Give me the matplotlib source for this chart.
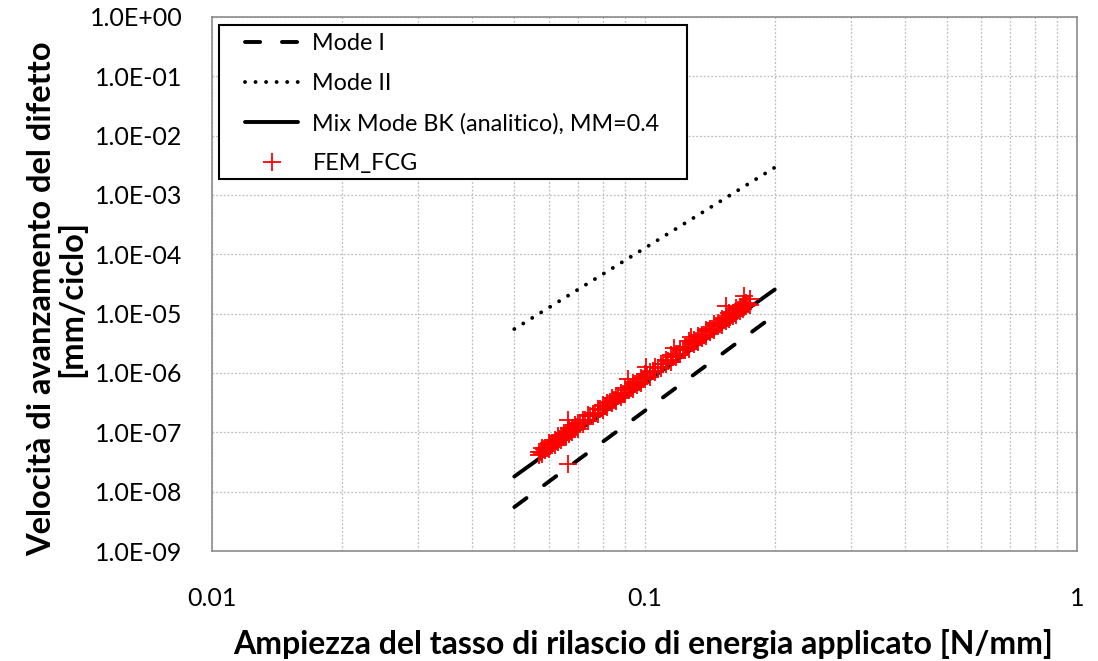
import matplotlib
matplotlib.use("Agg")
import matplotlib.pyplot as plt
from matplotlib.patches import Rectangle
from matplotlib.ticker import FuncFormatter, LogLocator, NullFormatter, FixedLocator

# Paris-type lines (start / end points in G and da/dN)
g_line = [0.05, 0.2]
mode1_rate = [5.5e-9, 9.5e-6]
mode2_rate = [5.5e-6, 2.9e-3]
mix_rate = [1.8e-8, 2.55e-5]

# FEM_FCG points
fem_g = [0.057, 0.057, 0.058, 0.058, 0.059, 0.059, 0.060, 0.060, 0.061, 0.061,
         0.062, 0.062, 0.063, 0.063, 0.064, 0.064, 0.065, 0.065, 0.066, 0.066,
         0.067, 0.067, 0.068, 0.068, 0.069, 0.069, 0.070, 0.070, 0.072, 0.072,
         0.074, 0.074, 0.076, 0.076, 0.078, 0.078, 0.080, 0.080, 0.082, 0.082,
         0.084, 0.084, 0.086, 0.086, 0.088, 0.088, 0.090, 0.090, 0.092, 0.092,
         0.094, 0.094, 0.096, 0.096, 0.098, 0.098, 0.100, 0.100, 0.103, 0.103,
         0.106, 0.106, 0.109, 0.109, 0.112, 0.112, 0.115, 0.115, 0.118, 0.118,
         0.121, 0.121, 0.124, 0.124, 0.127, 0.127, 0.130, 0.130, 0.133, 0.133,
         0.136, 0.136, 0.139, 0.139, 0.142, 0.142, 0.145, 0.145, 0.148, 0.148,
         0.151, 0.151, 0.154, 0.154, 0.157, 0.157, 0.160, 0.160, 0.163, 0.163,
         0.166, 0.166, 0.169, 0.169, 0.172, 0.172, 0.175, 0.175,
         0.0664, 0.0664, 0.170, 0.1545, 0.128, 0.117, 0.1006, 0.0914]
fem_rate = [4.10e-8, 4.71e-8, 4.29e-8, 5.40e-8, 5.02e-8, 5.51e-8, 5.24e-8, 6.59e-8, 6.11e-8, 6.70e-8,
            6.07e-8, 7.46e-8, 6.92e-8, 8.71e-8, 7.35e-8, 8.63e-8, 8.34e-8, 9.79e-8, 8.41e-8, 9.89e-8,
            9.55e-8, 1.17e-7, 1.01e-7, 1.18e-7, 1.14e-7, 1.31e-7, 1.15e-7, 1.44e-7, 1.39e-7, 1.60e-7,
            1.57e-7, 1.97e-7, 1.89e-7, 2.07e-7, 2.02e-7, 2.48e-7, 2.41e-7, 2.90e-7, 2.68e-7, 3.15e-7,
            3.18e-7, 3.83e-7, 3.37e-7, 4.05e-7, 3.97e-7, 4.67e-7, 4.37e-7, 5.62e-7, 5.13e-7, 5.75e-7,
            5.36e-7, 6.75e-7, 6.27e-7, 7.03e-7, 6.81e-7, 8.18e-7, 7.93e-7, 9.53e-7, 8.63e-7, 1.04e-6,
            1.05e-6, 1.26e-6, 1.19e-6, 1.40e-6, 1.44e-6, 1.65e-6, 1.54e-6, 1.98e-6, 1.84e-6, 2.07e-6,
            2.05e-6, 2.52e-6, 2.44e-6, 2.74e-6, 2.58e-6, 3.40e-6, 3.05e-6, 3.59e-6, 3.37e-6, 4.14e-6,
            3.95e-6, 4.44e-6, 4.14e-6, 5.33e-6, 4.85e-6, 5.57e-6, 5.28e-6, 6.81e-6, 6.17e-6, 7.08e-6,
            6.38e-6, 8.04e-6, 7.41e-6, 8.51e-6, 8.02e-6, 1.01e-5, 9.27e-6, 1.04e-5, 9.53e-6, 1.26e-5,
            1.10e-5, 1.29e-5, 1.18e-5, 1.45e-5, 1.35e-5, 1.52e-5, 1.38e-5, 1.78e-5,
            1.62e-7, 2.95e-8, 2.0e-5, 1.36e-5, 4.0e-6, 2.6e-6, 1.25e-6, 7.9e-7]

# more FEM_FCG points in the middle of the band
fem_g_mid = [0.0575, 0.0585, 0.0595, 0.0605, 0.0615, 0.0625, 0.0635, 0.0645, 0.0655, 0.0665,
             0.0675, 0.0685, 0.0695, 0.071, 0.073, 0.075, 0.077, 0.079, 0.081, 0.083,
             0.085, 0.087, 0.089, 0.091, 0.093, 0.095, 0.097, 0.099, 0.1015, 0.1045,
             0.1075, 0.1105, 0.1135, 0.1165, 0.1195, 0.1225, 0.1255, 0.1285, 0.1315, 0.1345,
             0.1375, 0.1405, 0.1435, 0.1465, 0.1495, 0.1525, 0.1555, 0.1585, 0.1615, 0.1645,
             0.1675, 0.1705, 0.1735]
fem_rate_mid = [4.60e-8, 5.14e-8, 5.50e-8, 6.13e-8, 6.52e-8, 7.27e-8, 7.73e-8, 8.58e-8, 9.08e-8, 1.01e-7,
                1.06e-7, 1.17e-7, 1.24e-7, 1.42e-7, 1.60e-7, 1.89e-7, 2.12e-7, 2.47e-7, 2.75e-7, 3.20e-7,
                3.55e-7, 4.10e-7, 4.51e-7, 5.19e-7, 5.68e-7, 6.50e-7, 7.08e-7, 8.05e-7, 8.96e-7, 1.07e-6,
                1.21e-6, 1.43e-6, 1.61e-6, 1.89e-6, 2.11e-6, 2.45e-6, 2.72e-6, 3.15e-6, 3.48e-6, 4.00e-6,
                4.39e-6, 5.03e-6, 5.49e-6, 6.26e-6, 6.80e-6, 7.72e-6, 8.36e-6, 9.45e-6, 1.02e-5, 1.15e-5,
                1.23e-5, 1.38e-5, 1.48e-5]

x_ticks = [0.01, 0.1, 1]
x_ticklabels = ["0.01", "0.1", "1"]

plt.rcParams['font.family'] = ['Lato', 'DejaVu Sans']

fig = plt.figure(figsize=(10.98, 6.61), dpi=100)
ax = fig.add_axes([0.193, 0.1664, 0.788, 0.808])

lw = 2.8
ax.plot(g_line, mode1_rate, color="black", lw=lw, dashes=(3.9, 5.6),
        dash_capstyle="round", label="Mode I")
ax.plot(g_line, mode2_rate, color="black", lw=lw, dashes=(0.01, 2.7),
        dash_capstyle="round", label="Mode II")
ax.plot(g_line, mix_rate, color="black", lw=lw, solid_capstyle="round",
        label="Mix Mode BK (analitico), MM=0.4")
ax.plot(fem_g + fem_g_mid, fem_rate + fem_rate_mid, ls="none", marker="+",
        ms=13, mew=1.3, color="red", label="FEM_FCG")

ax.set_xscale("log")
ax.set_yscale("log")
ax.set_xlim(0.01, 1)
ax.set_ylim(1e-9, 1)

ax.xaxis.set_major_locator(FixedLocator(x_ticks))
ax.set_xticklabels(x_ticklabels)
ax.xaxis.set_minor_locator(LogLocator(base=10, subs=range(2, 10)))
ax.xaxis.set_minor_formatter(NullFormatter())
ax.yaxis.set_major_locator(LogLocator(base=10, numticks=12))
ax.yaxis.set_minor_locator(FixedLocator([]))
ax.yaxis.set_major_formatter(FuncFormatter(lambda v, p: f"{v:.1E}"))

ax.grid(True, which="major", color="#bdbdbd", ls=(0, (1.5, 1.5)), lw=0.9)
ax.grid(True, which="minor", axis="x", color="#bdbdbd", ls=(0, (1.5, 1.5)), lw=0.9)
ax.set_axisbelow(True)

ax.tick_params(axis="both", which="both", length=0, labelsize=18)
ax.tick_params(axis="x", pad=26)
ax.tick_params(axis="y", pad=21)
for s in ax.spines.values():
    s.set_color("#8c8c8c")
    s.set_linewidth(1.2)

# axis titles placed in figure coordinates
fig.text(0.5856, 0.026, "Ampiezza del tasso di rilascio di energia applicato [N/mm]",
         fontsize=23, fontweight="bold", ha="center", va="center")
fig.text(0.052, 0.548, "Velocità di avanzamento del difetto\n[mm/ciclo]",
         fontsize=23.5, fontweight="bold", ha="center", va="center",
         rotation=90, linespacing=1.0, multialignment="center")

# legend frame drawn separately so the entries can sit further in
ax.add_patch(Rectangle((0.0081, 0.6966), 0.541, 0.2884, transform=ax.transAxes,
                       facecolor="white", edgecolor="black", lw=1.5, zorder=4))
leg = ax.legend(loc="upper left", bbox_to_anchor=(0.038, 0.969), borderaxespad=0,
                borderpad=0, fontsize=16.8, handlelength=2.3, handletextpad=0.6,
                labelspacing=0.8, frameon=False)
leg.set_zorder(5)

fig.savefig("out.png", dpi=100)
